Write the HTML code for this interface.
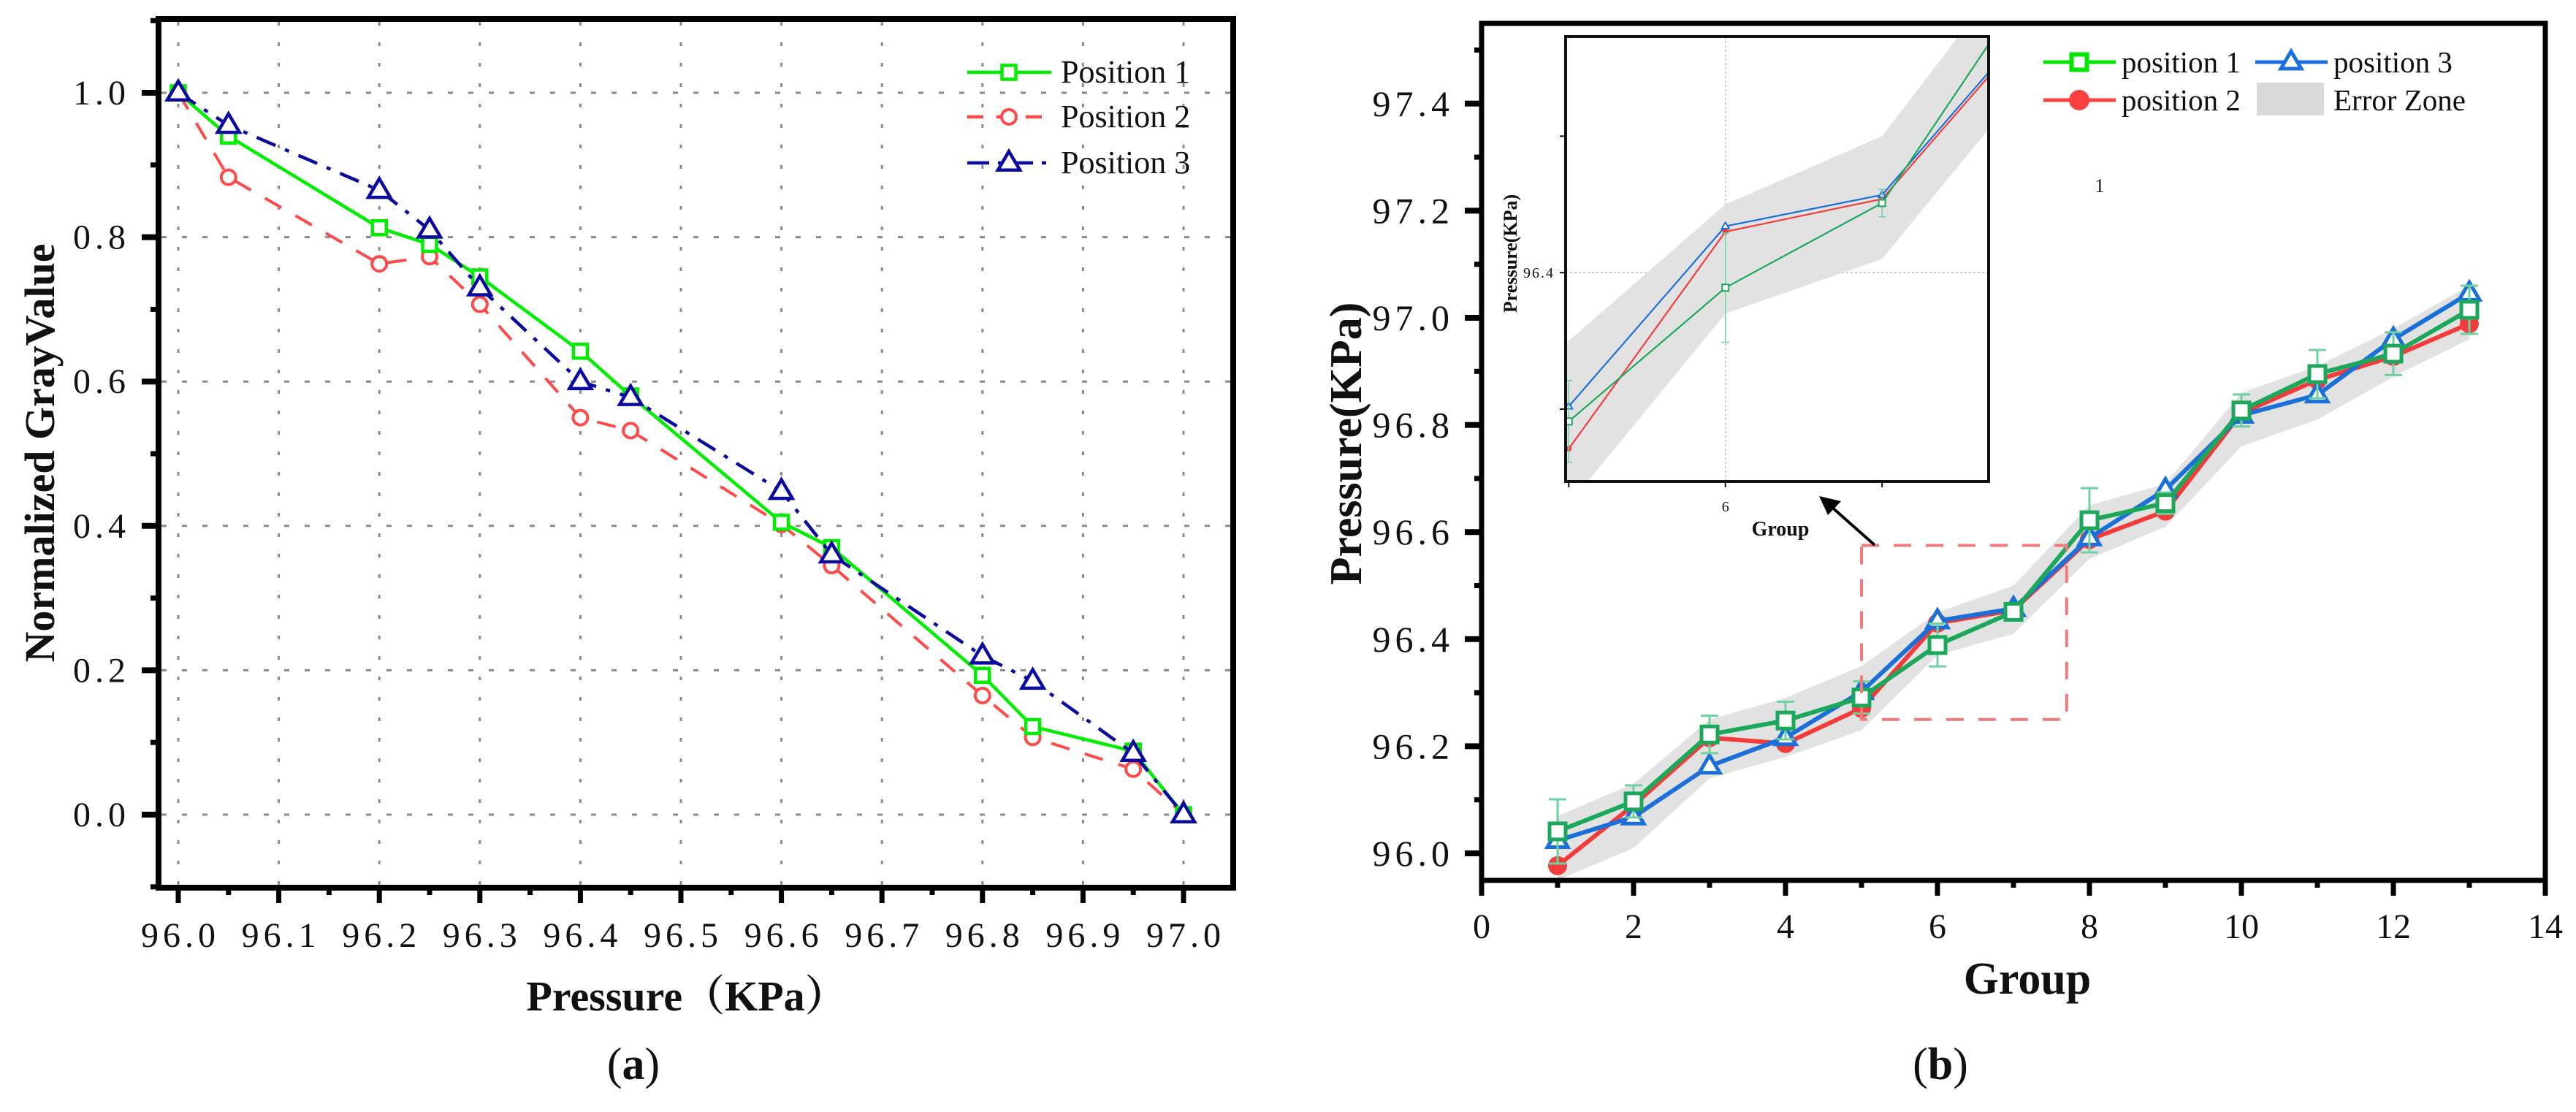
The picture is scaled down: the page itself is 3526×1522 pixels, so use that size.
<!DOCTYPE html>
<html><head><meta charset="utf-8"><style>
html,body{margin:0;padding:0;background:#fff;width:3526px;height:1522px;overflow:hidden}
svg{display:block}
text{font-family:"Liberation Serif","Noto Serif CJK SC",serif;fill:#111}
</style></head><body>
<svg id="fig" xmlns="http://www.w3.org/2000/svg" width="3526" height="1522" viewBox="0 0 3526 1522">
<defs>
<clipPath id="insetClip"><rect x="2143" y="50" width="579" height="609"/></clipPath>
</defs>
<g id="panelA"></g>
<g id="panelB"></g>
</svg>
<script>
// ---------- Panel (a) data ----------
const aX = [96.0,96.05,96.2,96.25,96.3,96.4,96.45,96.6,96.65,96.8,96.85,96.95,97.0];
const aPos1 = [1.0,0.94,0.813,0.79,0.745,0.642,0.58,0.405,0.37,0.193,0.122,0.088,0.0];
const aPos2 = [1.0,0.883,0.763,0.773,0.707,0.55,0.532,0.402,0.345,0.165,0.107,0.063,0.0];
const aPos3 = [1.0,0.955,0.865,0.81,0.73,0.6,0.578,0.448,0.36,0.22,0.185,0.085,0.0];
const aXTicks = ["96.0","96.1","96.2","96.3","96.4","96.5","96.6","96.7","96.8","96.9","97.0"];
const aYTicks = ["0.0","0.2","0.4","0.6","0.8","1.0"];
// ---------- Panel (b) data ----------
const bGroups = [1,2,3,4,5,6,7,8,9,10,11,12,13];
const bPos1 = [96.041,96.097,96.222,96.248,96.291,96.389,96.451,96.622,96.654,96.827,96.895,96.933,97.015];
const bPos2 = [95.977,96.09,96.216,96.205,96.271,96.43,96.454,96.586,96.639,96.822,96.884,96.928,96.989];
const bPos3 = [96.024,96.068,96.163,96.216,96.302,96.434,96.457,96.589,96.679,96.818,96.856,96.96,97.046];
const bErr1 = [0.06,0.03,0.035,0.035,0.03,0.04,0.01,0.06,0.02,0.03,0.045,0.04,0.045];
const bZoneHigh = [96.07,96.13,96.25,96.29,96.35,96.45,96.50,96.65,96.69,96.86,96.91,96.98,97.06];
const bZoneLow = [95.95,96.01,96.14,96.18,96.23,96.37,96.41,96.55,96.61,96.76,96.81,96.89,96.96];
const bXTicks = ["0","2","4","6","8","10","12","14"];
const bYTicks = ["96.0","96.2","96.4","96.6","96.8","97.0","97.2","97.4"];

const NS = "http://www.w3.org/2000/svg";
const SERIF = '"Liberation Serif", "Noto Serif CJK SC", serif';
function mk(parent, tag, attrs, txt){
  const e = document.createElementNS(NS, tag);
  for (const k in attrs) e.setAttribute(k, attrs[k]);
  if (tag === "text") e.setAttribute("font-family", SERIF);
  if (txt !== undefined) e.textContent = txt;
  parent.appendChild(e); return e;
}
function pts(xs, ys, fx, fy){ return xs.map((x,i)=>fx(x)+","+fy(ys[i])).join(" "); }
function sq(p, cx, cy, s, stroke, sw, fill){ return mk(p,"rect",{x:cx-s/2,y:cy-s/2,width:s,height:s,fill:fill,stroke:stroke,"stroke-width":sw}); }
function tri(p, cx, cy, s, stroke, sw){ const h=s*0.85; return mk(p,"polygon",{points:`${cx},${cy-h*0.62} ${cx-s/2},${cy+h*0.38} ${cx+s/2},${cy+h*0.38}`,fill:"#fff",stroke:stroke,"stroke-width":sw,"stroke-linejoin":"miter"}); }

// ================= PANEL A =================
const A = document.getElementById("panelA");
const xa = v => 244 + (v-96)*1376;
const ya = v => 1115 - v*988;
const gA = mk(A,"g",{});


aXTicks.forEach(t=>{ const x=xa(parseFloat(t)); mk(gA,"line",{x1:x,y1:30,x2:x,y2:1211,stroke:"#8a8a8a","stroke-width":3,"stroke-dasharray":"5 23"}); });
aYTicks.forEach(t=>{ const y=ya(parseFloat(t)); mk(gA,"line",{x1:221,y1:y,x2:1684,y2:y,stroke:"#8a8a8a","stroke-width":3,"stroke-dasharray":"7 21"}); });
const sA = mk(A,"g",{});


const l2 = mk(sA,"polyline",{points:pts(aX,aPos2,xa,ya),fill:"none",stroke:"#ff4a4a","stroke-width":4,"stroke-dasharray":"26 22"});


aX.forEach((x,i)=>{ const c=mk(sA,"circle",{cx:xa(x),cy:ya(aPos2[i]),r:10,fill:"#fff",stroke:"#ff4a4a","stroke-width":4});
  
   });
const l1 = mk(sA,"polyline",{points:pts(aX,aPos1,xa,ya),fill:"none",stroke:"#00ee00","stroke-width":4.5});


aX.forEach((x,i)=>{ const r=sq(sA,xa(x),ya(aPos1[i]),19,"#00ee00",4.5,"#fff");
  
   });
const l3 = mk(sA,"polyline",{points:pts(aX,aPos3,xa,ya),fill:"none",stroke:"#0a0aa0","stroke-width":4.5,"stroke-dasharray":"28 14 6 14"});


aX.forEach((x,i)=>{ const t=tri(sA,xa(x),ya(aPos3[i]),30,"#0a0aa0",4.5);
  
   });
const fA = mk(A,"rect",{x:217,y:26,width:1471,height:1189,fill:"none",stroke:"#000","stroke-width":8});


for (let i=0;i<=20;i++){ const v=96+i*0.05; const x=xa(v); const major=i%2===0;
  mk(A,"line",{x1:x,y1:1215,x2:x,y2:major?1236:1225,stroke:"#000","stroke-width":7}); }
for (let i=-1;i<=11;i++){ const v=i*0.1; const y=ya(v); const major=(i%2===0);
  mk(A,"line",{x1:217,y1:y,x2:major?194:206,y2:y,stroke:"#000","stroke-width":major?8:7}); }
aXTicks.forEach(t=>{ const e=mk(A,"text",{x:xa(parseFloat(t))+3,y:1296,"font-size":48,"text-anchor":"middle","letter-spacing":6},t);
  
   });
aYTicks.forEach(t=>{ const e=mk(A,"text",{x:178,y:ya(parseFloat(t))+16,"font-size":48,"text-anchor":"end","letter-spacing":6},t);
  
   });
const yta = mk(A,"text",{x:0,y:0,"font-size":58,"font-weight":"bold","text-anchor":"middle",transform:"translate(74,620) rotate(-90)"},"Normalized GrayValue");


const xta = mk(A,"text",{x:940,y:1383,"font-size":58,"font-weight":"bold","text-anchor":"middle"},"Pressure（KPa）");


const capA = mk(A,"text",{x:867,y:1477,"font-size":62,"text-anchor":"middle"});
capA.innerHTML = '(<tspan font-weight="bold">a</tspan>)';


const legA = mk(A,"g",{});


const legRowsA = [
  {y:99,label:"Position 1",c:"#00ee00",dash:null,m:"sq"},
  {y:160,label:"Position 2",c:"#ff4a4a",dash:"22 18",m:"ci"},
  {y:223,label:"Position 3",c:"#0a0aa0",dash:"30 12 6 12",m:"tr"}];
legRowsA.forEach(r=>{
  const g=mk(legA,"g",{});
  
  
  const at={x1:1324,y1:r.y,x2:1439,y2:r.y,stroke:r.c,"stroke-width":4.5}; if(r.dash) at["stroke-dasharray"]=r.dash;
  mk(g,"line",at);
  if(r.m==="sq") sq(g,1381,r.y,19,r.c,4.5,"#fff");
  if(r.m==="ci") mk(g,"circle",{cx:1381,cy:r.y,r:10,fill:"#fff",stroke:r.c,"stroke-width":4});
  if(r.m==="tr") tri(g,1381,r.y,30,r.c,4.5);
  mk(g,"text",{x:1452,y:r.y+14,"font-size":44},r.label);
});

// ================= PANEL B =================
const B = document.getElementById("panelB");
const xb = g => 2028 + g*104;
const yb = v => 1168 - (v-96)*733;
const cG="#1ba85a", cR="#f23c3c", cB="#1a6fd8", cE="#6fd0a0";
function drawSeries(par, fx, fy, big){
  const lw = big?6:2.2;
  const zone = mk(par,"polygon",{points:pts(bGroups,bZoneHigh,fx,fy)+" "+pts(bGroups.slice().reverse(),bZoneLow.slice().reverse(),fx,fy),fill:"#e2e2e2"});
  
  
  const lr = mk(par,"polyline",{points:pts(bGroups,bPos2,fx,fy),fill:"none",stroke:cR,"stroke-width":lw});
  
  
  bGroups.forEach((g,i)=>{ const c=mk(par,"circle",{cx:fx(g),cy:fy(bPos2[i]),r:big?13:4,fill:cR});
    
     });
  const lb = mk(par,"polyline",{points:pts(bGroups,bPos3,fx,fy),fill:"none",stroke:cB,"stroke-width":lw});
  
  
  bGroups.forEach((g,i)=>{ const t=tri(par,fx(g),fy(bPos3[i]),big?28:10,cB,big?5:2);
    
     });
  bGroups.forEach((g,i)=>{ const x=fx(g), y1=fy(bPos1[i]+bErr1[i]), y2=fy(bPos1[i]-bErr1[i]); const cw=big?12:5;
    const eb=mk(par,"path",{d:`M${x},${y1}V${y2}M${x-cw},${y1}H${x+cw}M${x-cw},${y2}H${x+cw}`,stroke:cE,"stroke-width":big?3:1.5,fill:"none"});
    
     });
  const lg = mk(par,"polyline",{points:pts(bGroups,bPos1,fx,fy),fill:"none",stroke:cG,"stroke-width":lw});
  
  
  bGroups.forEach((g,i)=>{ const r=sq(par,fx(g),fy(bPos1[i]),big?22:9,cG,big?5:2,"#fff");
    
     });
}
const mainS = mk(B,"g",{});


drawSeries(mainS, xb, yb, true);
const fB = mk(B,"rect",{x:2028,y:32,width:1456,height:1173,fill:"none",stroke:"#000","stroke-width":7});


for (let g=0; g<=14; g++){ const x=xb(g); const major=g%2===0;
  mk(B,"line",{x1:x,y1:1205,x2:x,y2:major?1226:1215,stroke:"#000","stroke-width":7}); }
for (let i=0;i<=15;i++){ const v=96+i*0.1; const y=yb(v); const major=i%2===0;
  mk(B,"line",{x1:2028,y1:y,x2:major?2005:2018,y2:y,stroke:"#000","stroke-width":major?8:7}); }
bXTicks.forEach(t=>{ const e=mk(B,"text",{x:xb(parseFloat(t)),y:1284,"font-size":48,"text-anchor":"middle"},t);
  
   });
bYTicks.forEach(t=>{ const e=mk(B,"text",{x:1990,y:yb(parseFloat(t))+17,"font-size":50,"text-anchor":"end","letter-spacing":6},t);
  
   });
const ytb = mk(B,"text",{x:0,y:0,"font-size":62,"font-weight":"bold","text-anchor":"middle",transform:"translate(1863,607) rotate(-90)"},"Pressure(KPa)");


const xtb = mk(B,"text",{x:2775,y:1360,"font-size":62,"font-weight":"bold","text-anchor":"middle"},"Group");


const capB = mk(B,"text",{x:2656,y:1477,"font-size":62,"text-anchor":"middle"});
capB.innerHTML = '(<tspan font-weight="bold">b</tspan>)';


const zr = mk(B,"rect",{x:xb(5),y:yb(96.575),width:xb(7.7)-xb(5),height:yb(96.25)-yb(96.575),fill:"none",stroke:"#f47a7a","stroke-width":4,"stroke-dasharray":"24 20"});


const ar = mk(B,"g",{});


mk(ar,"line",{x1:2566,y1:746,x2:2505,y2:692,stroke:"#000","stroke-width":4});
mk(ar,"polygon",{points:"2490,679 2520,686 2502,705",fill:"#000"});
const ins = mk(B,"g",{});


const xi = g => 2143 + (g-4.98)*(579/2.70);
const yi = v => 659 - (v-96.247)*1868;
mk(ins,"rect",{x:2143,y:50,width:579,height:609,fill:"#fff"});
const inner = mk(ins,"g",{"clip-path":"url(#insetClip)"});
mk(inner,"line",{x1:xi(6),y1:50,x2:xi(6),y2:659,stroke:"#bbb","stroke-width":1.5,"stroke-dasharray":"3 3"});
mk(inner,"line",{x1:2143,y1:yi(96.4),x2:2722,y2:yi(96.4),stroke:"#bbb","stroke-width":1.5,"stroke-dasharray":"3 3"});
drawSeries(inner, xi, yi, false);
mk(ins,"rect",{x:2143,y:50,width:579,height:609,fill:"none",stroke:"#111","stroke-width":4});
[5,6,7].forEach(g=>mk(ins,"line",{x1:xi(g),y1:659,x2:xi(g),y2:667,stroke:"#111","stroke-width":2}));
[96.3,96.4,96.5].forEach(v=>mk(ins,"line",{x1:2143,y1:yi(v),x2:2135,y2:yi(v),stroke:"#111","stroke-width":2}));
const it1 = mk(ins,"text",{x:2128,y:yi(96.4)+7,"font-size":20,"text-anchor":"end","letter-spacing":2},"96.4");


const it2 = mk(ins,"text",{x:xi(6),y:700,"font-size":20,"text-anchor":"middle"},"6");


const it3 = mk(ins,"text",{x:2437,y:733,"font-size":28,"font-weight":"bold","text-anchor":"middle"},"Group");


const it4 = mk(ins,"text",{x:0,y:0,"font-size":26,"font-weight":"bold","text-anchor":"middle",transform:"translate(2076,347) rotate(-90)"},"Pressure(KPa)");


const one = mk(B,"text",{x:2874,y:263,"font-size":26,"text-anchor":"middle"},"1");


const legB = mk(B,"g",{});


const legRowsB = [
  {x:2797,y:85,label:"position 1",c:"#00e600",m:"sq"},
  {x:2797,y:137,label:"position 2",c:"#ff4040",m:"ci"},
  {x:3087,y:85,label:"position 3",c:"#1a6fe0",m:"tr"},
  {x:3087,y:137,label:"Error Zone",c:"#d9d9d9",m:"zone"}];
legRowsB.forEach(r=>{
  const g=mk(legB,"g",{});
  
  
  if(r.m==="zone"){ mk(g,"rect",{x:r.x+2,y:r.y-24,width:92,height:45,fill:r.c}); }
  else {
    mk(g,"line",{x1:r.x,y1:r.y,x2:r.x+99,y2:r.y,stroke:r.c,"stroke-width":5});
    const cx=r.x+49;
    if(r.m==="sq") sq(g,cx,r.y,21,r.c,6,"#fff");
    if(r.m==="ci") mk(g,"circle",{cx:cx,cy:r.y,r:14,fill:r.c});
    if(r.m==="tr") tri(g,cx,r.y,28,r.c,5);
  }
  mk(g,"text",{x:r.x+107,y:r.y+14,"font-size":41},r.label);
});
</script>
</body></html>
